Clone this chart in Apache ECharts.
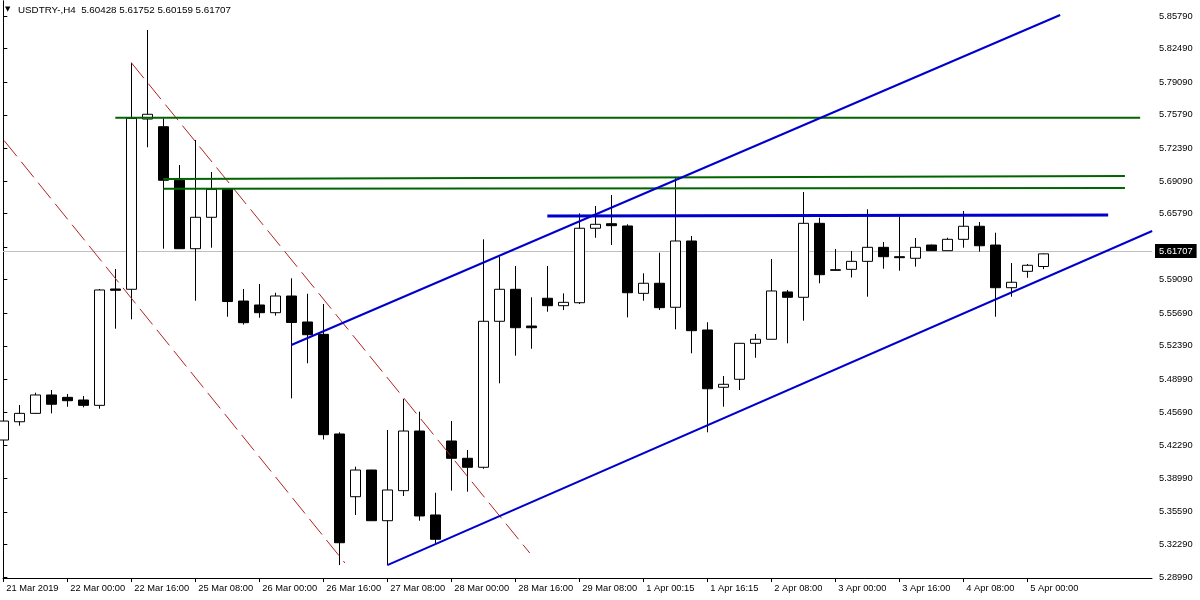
<!DOCTYPE html>
<html>
<head>
<meta charset="utf-8">
<script src="https://cdn.jsdelivr.net/npm/echarts@6/dist/echarts.min.js"></script>
<style>html,body{margin:0;padding:0;background:#fff;}#c{width:1200px;height:600px;}</style>
</head>
<body>
<div id="c"></div>
<script>
// ---- DATA ----
const categories = ['21 Mar 2019','21 Mar 12:00','21 Mar 16:00','21 Mar 20:00',
 '22 Mar 00:00','22 Mar 04:00','22 Mar 08:00','22 Mar 12:00','22 Mar 16:00','22 Mar 20:00',
 '25 Mar 00:00','25 Mar 04:00','25 Mar 08:00','25 Mar 12:00','25 Mar 16:00','25 Mar 20:00',
 '26 Mar 00:00','26 Mar 04:00','26 Mar 08:00','26 Mar 12:00','26 Mar 16:00','26 Mar 20:00',
 '27 Mar 00:00','27 Mar 04:00','27 Mar 08:00','27 Mar 12:00','27 Mar 16:00','27 Mar 20:00',
 '28 Mar 00:00','28 Mar 04:00','28 Mar 08:00','28 Mar 12:00','28 Mar 16:00','28 Mar 20:00',
 '29 Mar 00:00','29 Mar 04:00','29 Mar 08:00','29 Mar 12:00','29 Mar 16:00','29 Mar 20:00',
 '1 Apr 00:15','1 Apr 04:00','1 Apr 08:00','1 Apr 12:00','1 Apr 16:15','1 Apr 20:00',
 '2 Apr 00:00','2 Apr 04:00','2 Apr 08:00','2 Apr 12:00','2 Apr 16:00','2 Apr 20:00',
 '3 Apr 00:00','3 Apr 04:00','3 Apr 08:00','3 Apr 12:00','3 Apr 16:00','3 Apr 20:00',
 '4 Apr 00:00','4 Apr 04:00','4 Apr 08:00','4 Apr 12:00','4 Apr 16:00','4 Apr 20:00',
 '5 Apr 00:00','5 Apr 04:00'];

const opens = [5.4286,5.4471,5.4556,5.4742,5.4718,5.4691,5.4637,5.5815,5.5812,5.7536,
 5.7458,5.6916,5.6223,5.6541,5.6827,5.5693,5.5653,5.5575,5.5744,5.5481,
 5.5356,5.4347,5.3712,5.3982,5.3469,5.3773,5.4377,5.3527,5.4276,5.4101,
 5.4010,5.5488,5.5812,5.5440,5.5721,5.5646,5.5676,5.6430,5.6476,5.6453,
 5.5771,5.5873,5.5630,5.6301,5.5400,5.4820,5.4901,5.5265,5.5306,5.5785,
 5.5731,5.6480,5.6010,5.6014,5.6095,5.6237,5.6142,5.6126,5.6260,5.6203,
 5.6318,5.6450,5.6260,5.5828,5.5994,5.60428];
const closes = [5.4478,5.4556,5.4742,5.4648,5.4684,5.4637,5.5805,5.5802,5.7543,5.7584,
 5.6916,5.6223,5.6541,5.6824,5.5688,5.5474,5.5575,5.5744,5.5476,5.5352,
 5.4340,5.3246,5.3982,5.3469,5.3780,5.4377,5.3517,5.3281,5.4101,5.4010,
 5.5488,5.5812,5.5423,5.5423,5.5646,5.5680,5.6430,5.6470,5.6456,5.5777,
 5.5873,5.5626,5.6301,5.5393,5.4805,5.4850,5.5265,5.5306,5.5795,5.5731,
 5.6480,5.5960,5.6004,5.6095,5.6237,5.6142,5.6132,5.6237,5.6203,5.6318,
 5.6450,5.6253,5.5828,5.5883,5.6055,5.61707];
const lows = [5.4235,5.4431,5.4549,5.4556,5.4623,5.4617,5.4603,5.5413,5.5508,5.7250,
 5.6223,5.6220,5.5696,5.6233,5.5534,5.5455,5.5524,5.5545,5.4708,5.5063,
 5.4291,5.3020,5.3527,5.3466,5.3020,5.3719,5.3469,5.3240,5.3773,5.3763,
 5.3995,5.4860,5.5140,5.5210,5.5585,5.5602,5.5663,5.6334,5.6260,5.5528,
 5.5696,5.5602,5.5407,5.5164,5.4364,5.4623,5.4792,5.5119,5.5304,5.5265,
 5.5494,5.5873,5.6002,5.5931,5.5737,5.6020,5.6000,5.6041,5.6200,5.6200,
 5.6233,5.6193,5.5534,5.5737,5.5929,5.60159];
const highs = [5.4509,5.4640,5.4765,5.4792,5.4752,5.4732,5.5815,5.6017,5.8106,5.8437,
 5.7543,5.7070,5.7324,5.7000,5.6830,5.5815,5.5866,5.5777,5.5923,5.5767,
 5.5663,5.4364,5.4016,5.3985,5.4387,5.4701,5.4573,5.3752,5.4478,5.4185,
 5.6318,5.6142,5.6048,5.5731,5.6048,5.5771,5.6581,5.6655,5.6767,5.6470,
 5.5974,5.6182,5.6949,5.6352,5.5478,5.4934,5.5268,5.5359,5.6119,5.5805,
 5.6797,5.6537,5.6220,5.6200,5.6622,5.6291,5.6547,5.6331,5.6265,5.6334,
 5.6605,5.6493,5.6385,5.6078,5.6068,5.61752];

const xTickIndex = [0,4,8,12,16,20,24,28,32,36,40,44,48,52,56,60,64];
const yTickLabels = [5.28990,5.32290,5.35590,5.38990,5.42290,5.45690,5.48990,5.52390,5.55690,
 5.59090,5.62390,5.65790,5.69090,5.72390,5.75790,5.79090,5.82490,5.85790];

const bidPrice = 5.61707;

// trend objects: [barIndex, price] endpoints
const blueChannelLower = [[24, 5.3020], [71.8, 5.6402]];
const blueChannelUpper = [[18, 5.5248], [66.05, 5.8589]];
const blueResistance   = [[34, 5.6554], [69.05, 5.6564]];
const greenTop         = [[7, 5.7549], [71.05, 5.7549]];
const greenMidUpper    = [[10, 5.6929], [70.1, 5.6959]];
const greenMidLower    = [[10, 5.6830], [70.1, 5.6838]];
const redDashUpper     = [[8, 5.8106], [32.9, 5.3142]];
const redDashLower     = [[-1, 5.7529], [21.35, 5.3041]];

// ---- CHART ----
const FONT = "'Liberation Sans',Arial,sans-serif";
const FS = 9.3;
const candleData = opens.map((o, i) => [i, o, closes[i], lows[i], highs[i]]);
const last = opens.length - 1;
const headerText = 'USDTRY-,H4  ' + opens[last].toFixed(5) + ' ' + highs[last].toFixed(5) + ' ' +
  lows[last].toFixed(5) + ' ' + closes[last].toFixed(5);

const Y_MIN = 5.28889, Y_MAX = 5.87309;

function lineSeries(data, color, width, type) {
  return {
    type: 'line', data: data, symbol: 'none', clip: true, silent: true, z: 5,
    lineStyle: { color: color, width: width, type: type || 'solid' }
  };
}

const chart = echarts.init(document.getElementById('c'), null, { renderer: 'canvas' });
chart.setOption({
  animation: false,
  backgroundColor: '#ffffff',
  grid: { left: 3, right: 48, top: 1, bottom: 22, show: false },
  xAxis: {
    type: 'value', min: -0.02, max: 71.79,
    axisLine: { show: true, onZero: false, lineStyle: { color: '#000', width: 1 } },
    axisTick: { show: true, length: 4, customValues: xTickIndex, lineStyle: { color: '#000' } },
    axisLabel: {
      customValues: xTickIndex, color: '#000', fontFamily: FONT, fontSize: FS,
      align: 'left', margin: 6, padding: [0, 0, 0, 3],
      formatter: v => categories[Math.round(v)] || ''
    },
    splitLine: { show: false }
  },
  yAxis: [{
    type: 'value', position: 'right', min: Y_MIN, max: Y_MAX,
    axisLine: { show: true, lineStyle: { color: '#000', width: 1 } },
    axisTick: { show: true, length: 4, customValues: yTickLabels, lineStyle: { color: '#000' } },
    axisLabel: {
      customValues: yTickLabels, color: '#000', fontFamily: FONT, fontSize: FS, margin: 7,
      formatter: v => v.toFixed(5)
    },
    splitLine: { show: false }
  }, {
    type: 'value', position: 'left', min: Y_MIN, max: Y_MAX,
    axisLine: { show: true, lineStyle: { color: '#000', width: 1 } },
    axisTick: { show: false }, axisLabel: { show: false }, splitLine: { show: false }
  }],
  series: [
    {
      type: 'candlestick', data: candleData, barWidth: 10,
      encode: { x: 0, y: [1, 2, 3, 4] },
      itemStyle: { color: '#ffffff', color0: '#000000', borderColor: '#000000', borderColor0: '#000000', borderWidth: 1 },
      markLine: {
        silent: true, symbol: ['none', 'none'], z: 1,
        lineStyle: { color: '#c0c0c0', width: 1, type: 'solid' },
        label: {
          show: true, position: 'end', distance: 3, formatter: bidPrice.toFixed(5),
          backgroundColor: '#000', color: '#fff', fontFamily: FONT, fontSize: FS,
          padding: [3, 4, 2, 4]
        },
        data: [{ yAxis: bidPrice }]
      }
    },
    lineSeries(redDashUpper, '#b22222', 1, [20, 7]),
    lineSeries(redDashLower, '#b22222', 1, [20, 7]),
    lineSeries(greenTop, '#006400', 2),
    lineSeries(greenMidUpper, '#006400', 2),
    lineSeries(greenMidLower, '#006400', 2),
    lineSeries(blueChannelLower, '#0000cd', 2),
    lineSeries(blueChannelUpper, '#0000cd', 2),
    lineSeries(blueResistance, '#0000cd', 3)
  ],
  graphic: [
    { type: 'text', left: 5, top: 6, style: { text: '▼', fontSize: 7, fill: '#000', fontFamily: 'DejaVu Sans' } },
    { type: 'text', left: 18, top: 5, style: { text: headerText, fontSize: FS + 0.5, fill: '#000', fontFamily: FONT } }
  ]
});
</script>
</body>
</html>
